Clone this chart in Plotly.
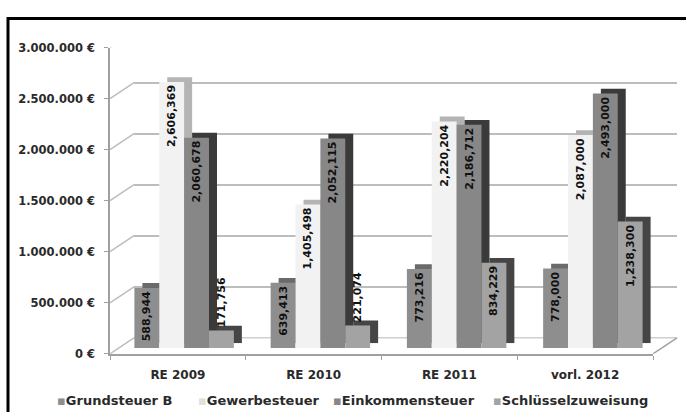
import plotly.graph_objects as go

# ---------------- data ----------------
categories = ["RE 2009", "RE 2010", "RE 2011", "vorl. 2012"]
series_names = ["Grundsteuer B", "Gewerbesteuer", "Einkommensteuer", "Schlüsselzuweisung"]
grundsteuer_b = [588944, 639413, 773216, 778000]
gewerbesteuer = [2606369, 1405498, 2220204, 2087000]
einkommensteuer = [2060678, 2052115, 2186712, 2493000]
schluesselzuweisung = [171756, 221074, 834229, 1238300]
y_tick_values = [0, 500000, 1000000, 1500000, 2000000, 2500000, 3000000]
y_tick_labels = ["0 €", "500.000 €", "1.000.000 €", "1.500.000 €",
                 "2.000.000 €", "2.500.000 €", "3.000.000 €"]

series_values = [grundsteuer_b, gewerbesteuer, einkommensteuer, schluesselzuweisung]

# ---------------- styles ----------------
W, H = 686, 412
face_colors = ["#8e8e8e", "#f2f2f2", "#878787", "#a3a3a3"]
side_colors = ["#6a6a6a", "#b4b4b4", "#3a3a3a", "#454545"]
legend_x_px = [55, 196, 331, 491]
grid_col = "#bdbdbd"
axis_col = "#a0a0a0"
txt_col = "#2a2a2a"
cat_range = [-0.5, len(categories) - 0.5]
val_range = [0, 3000000]
inside_min = 400000  # labels of shorter bars are placed above the bar


def fx(p):
    return p / W


def fy(p):
    return (H - p) / H


fig = go.Figure()

# shadows (side / top faces) on subplot 3
for name, vals, col in zip(series_names, series_values, side_colors):
    fig.add_trace(go.Bar(x=categories, y=vals, name=name, marker_color=col,
                         marker_line_width=0, xaxis="x3", yaxis="y3",
                         showlegend=False, hoverinfo="skip"))

# front faces with labels on subplot 4
for name, vals, col in zip(series_names, series_values, face_colors):
    fig.add_trace(go.Bar(x=categories, y=vals, name=name, marker_color=col,
                         marker_line_width=0, xaxis="x4", yaxis="y4",
                         text=[f"{v:,}" for v in vals],
                         textposition=["inside" if v >= inside_min else "outside" for v in vals],
                         insidetextanchor="end", textangle=-90, constraintext="none",
                         cliponaxis=False,
                         textfont=dict(family="DejaVu Sans", size=11, color="#111", weight="bold"),
                         showlegend=False))

hidden = dict(visible=False)
fig.update_layout(
    width=W, height=H,
    margin=dict(l=0, r=0, t=0, b=0),
    paper_bgcolor="white", plot_bgcolor="rgba(0,0,0,0)",
    barmode="group", bargap=0.27, bargroupgap=0,
    showlegend=False,
    font=dict(family="DejaVu Sans", color=txt_col),
    # back wall
    xaxis=dict(domain=[fx(134), fx(677)], anchor="y", type="category",
               categoryarray=categories, range=cat_range, showgrid=False, showline=False,
               showticklabels=False, ticks=""),
    yaxis=dict(domain=[fy(343), fy(26)], anchor="x", range=val_range,
               tickvals=y_tick_values, showgrid=True, gridcolor=grid_col, gridwidth=1.5,
               zeroline=False, showticklabels=False, ticks="", showline=False),
    # front axes
    xaxis2=dict(domain=[fx(110), fx(653)], anchor="y2", type="category",
                categoryarray=categories, range=cat_range, showgrid=False, showline=True,
                linecolor=axis_col, linewidth=1.5, ticks="outside", tickson="boundaries",
                ticklen=4, tickcolor=axis_col, ticklabelstandoff=9,
                tickfont=dict(family="DejaVu Sans", size=12, color=txt_col, weight="bold")),
    yaxis2=dict(domain=[fy(359), fy(42)], anchor="x2", range=val_range,
                tickvals=y_tick_values, ticktext=y_tick_labels, showgrid=False,
                zeroline=False, showline=True, linecolor=axis_col, linewidth=1.5,
                ticks="outside", ticklen=4, tickcolor=axis_col, ticklabelstandoff=7,
                tickfont=dict(family="DejaVu Sans", size=11.5, color=txt_col, weight="bold")),
    # shadows
    xaxis3=dict(domain=[fx(124), fx(669)], anchor="y3", type="category",
                categoryarray=categories, range=cat_range, **hidden),
    yaxis3=dict(domain=[fy(348), fy(31)], anchor="x3", range=val_range, **hidden),
    # faces
    xaxis4=dict(domain=[fx(116), fx(661)], anchor="y4", type="category",
                categoryarray=categories, range=cat_range, **hidden),
    yaxis4=dict(domain=[fy(353), fy(36)], anchor="x4", range=val_range, **hidden),
)

shapes = []
# side wall diagonals from front ticks to back wall
for v in y_tick_values:
    shapes.append(dict(type="line", xref="x2 domain", yref="y2",
                       xsizemode="pixel", ysizemode="pixel", xanchor=0, yanchor=v,
                       x0=0, x1=24, y0=0, y1=16,
                       line=dict(color=grid_col, width=1.5), layer="below"))
# floor back edge
shapes.append(dict(type="line", xref="x domain", yref="y", x0=0, x1=1,
                   y0=val_range[0], y1=val_range[0],
                   line=dict(color=axis_col, width=1.5), layer="below"))
# floor right edge
shapes.append(dict(type="line", xref="x2 domain", yref="y2",
                   xsizemode="pixel", ysizemode="pixel", xanchor=1, yanchor=0,
                   x0=0, x1=24, y0=0, y1=16,
                   line=dict(color=axis_col, width=1.5), layer="below"))
# outer frame
shapes.append(dict(type="rect", xref="paper", yref="paper",
                   x0=fx(8), x1=1.05, y0=-0.05, y1=fy(12),
                   line=dict(color="black", width=3), layer="above"))
fig.update_layout(shapes=shapes)

# legend row
annotations = []
for name, col, xp in zip(series_names, face_colors, legend_x_px):
    mark_col = "#e0e0e0" if col == "#f2f2f2" else col
    annotations.append(dict(xref="paper", yref="paper", x=fx(xp), y=fy(407),
                            xanchor="left", yanchor="middle", showarrow=False,
                            text=f"<span style='color:{mark_col}'>▪</span>{name}",
                            font=dict(family="DejaVu Sans", size=13, color=txt_col,
                                      weight="bold")))
fig.update_layout(annotations=annotations)

fig.write_html("out.html")
